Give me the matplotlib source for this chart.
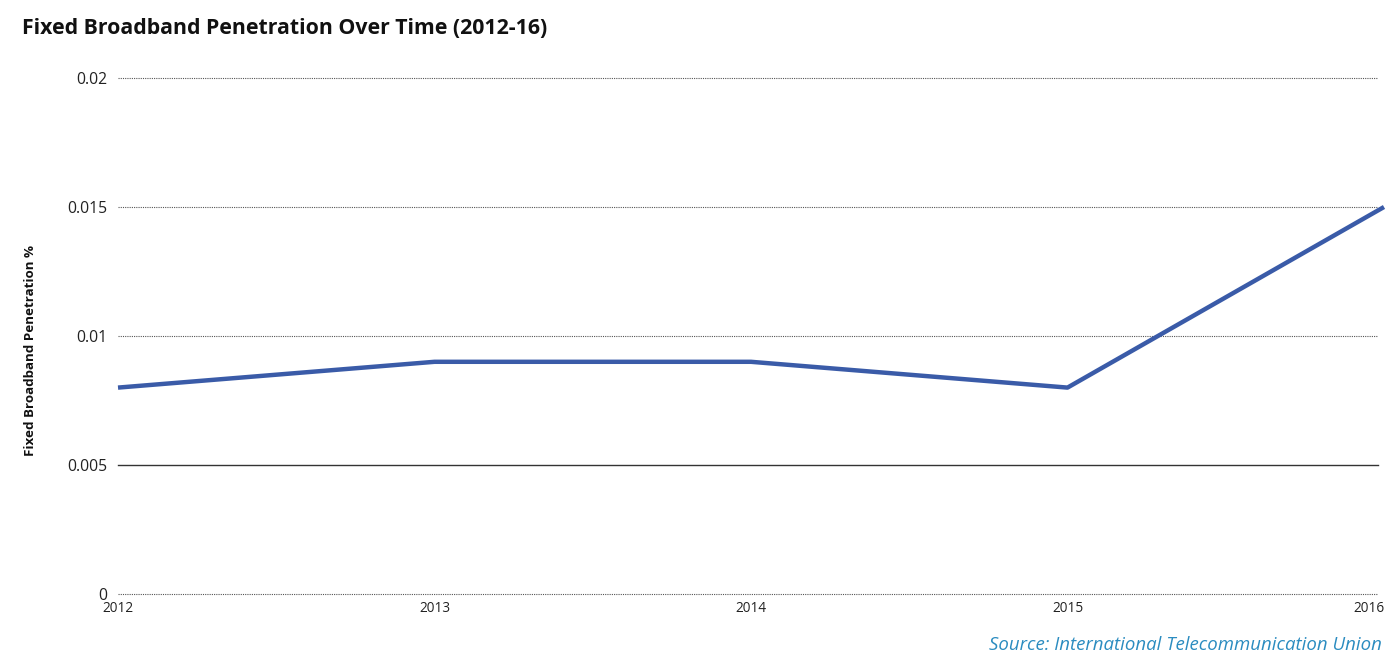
import matplotlib
matplotlib.use("Agg")
import matplotlib.pyplot as plt

years = [2012, 2013, 2014, 2015, 2016]
penetration = [0.008, 0.009, 0.009, 0.008, 0.015]
y_ticks = [0, 0.005, 0.01, 0.015, 0.02]
y_tick_labels = ["0", "0.005", "0.01", "0.015", "0.02"]

plt.rcParams['font.family'] = ['Open Sans', 'DejaVu Sans']

W, H = 1397, 669
fig = plt.figure(figsize=(W / 100, H / 100), dpi=100)
left, right, top, bottom = 118, 1384, 78, 594
ax = fig.add_axes([left / W, 1 - bottom / H, (right - left) / W, (bottom - top) / H])

grid_end = (1378 - left) / (right - left)
for t in y_ticks:
    if t == 0.005:
        ax.axhline(t, xmax=grid_end, color='#333333', lw=1.0, ls='-', zorder=1, clip_on=False)
    else:
        ax.axhline(t, xmax=grid_end, color='#555555', lw=0.8, ls=(0, (1, 1)), zorder=1, clip_on=False)

ax.plot(years, penetration, color='#3a5ba8', lw=3.2, solid_capstyle='butt', zorder=3, clip_on=False)

ax.set_xlim(2012, 2016)
ax.set_ylim(0, 0.02)
ax.set_yticks(y_ticks)
ax.set_yticklabels(y_tick_labels, fontsize=11.3, color='#222222')
ax.set_xticks(years)
ax.set_xticklabels([str(y) for y in years], fontsize=9.8, color='#222222')
ax.get_xticklabels()[-1].set_ha('right')
ax.get_xticklabels()[-1].set_x(2016.002)
ax.tick_params(axis='y', length=0, pad=8)
ax.tick_params(axis='x', length=0, pad=5)
for s in ax.spines.values():
    s.set_visible(False)

fig.text(30 / W, 1 - 351 / H, "Fixed Broadband Penetration %", rotation=90,
         fontsize=9.6, fontweight='bold', ha='center', va='center', color='#111111')

fig.text(22 / W, 1 - 28 / H, "Fixed Broadband Penetration Over Time (2012-16)",
         fontsize=15.3, fontweight='bold', ha='left', va='center', color='#111111')

fig.text(1382 / W, 1 - 645 / H, "Source: International Telecommunication Union",
         fontsize=13.4, style='italic', ha='right', va='center', color='#2b8cc0')

fig.savefig("out.png", dpi=100)
